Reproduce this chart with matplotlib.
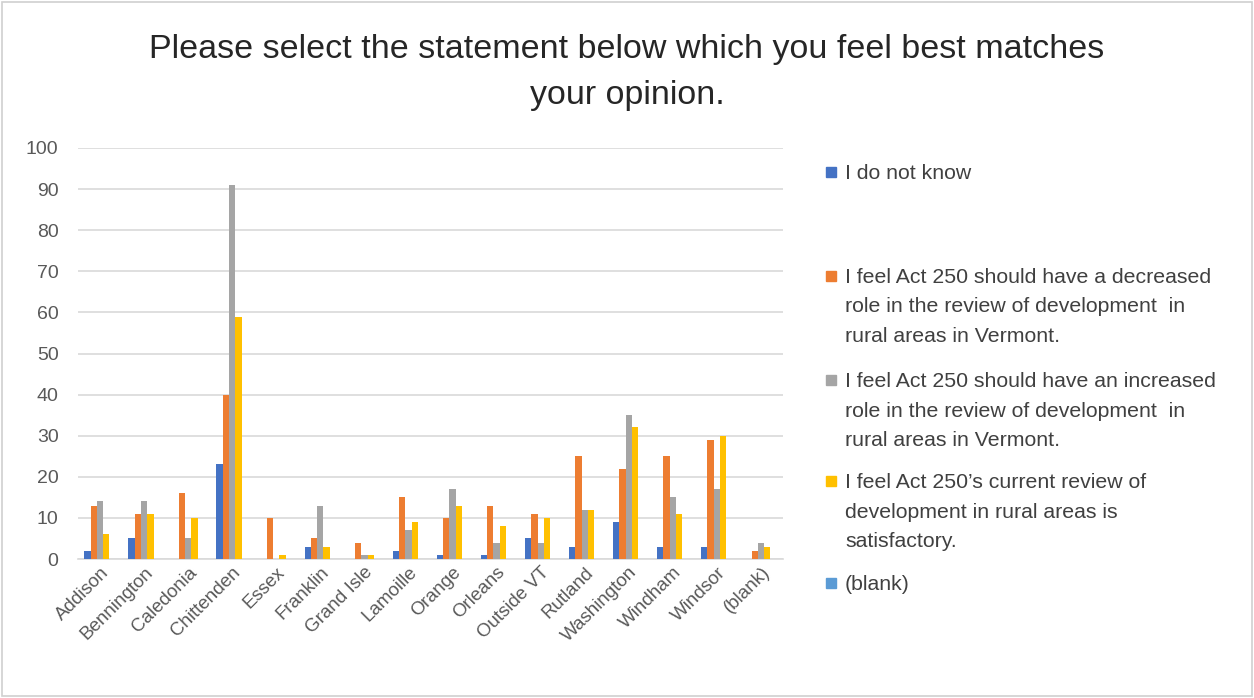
import numpy as np
import matplotlib.pyplot as plt
from matplotlib.patches import Rectangle

# data
counties = ['Addison', 'Bennington', 'Caledonia', 'Chittenden', 'Essex', 'Franklin',
            'Grand Isle', 'Lamoille', 'Orange', 'Orleans', 'Outside VT', 'Rutland',
            'Washington', 'Windham', 'Windsor', '(blank)']
dont_know = [2, 5, 0, 23, 0, 3, 0, 2, 1, 1, 5, 3, 9, 3, 3, 0]
decreased = [13, 11, 16, 40, 10, 5, 4, 15, 10, 13, 11, 25, 22, 25, 29, 2]
increased = [14, 14, 5, 91, 0, 13, 1, 7, 17, 4, 4, 12, 35, 15, 17, 4]
satisfied = [6, 11, 10, 59, 1, 3, 1, 9, 13, 8, 10, 12, 32, 11, 30, 3]
blank = [0] * 16

series_names = ['I do not know',
                'I feel Act 250 should have a decreased\nrole in the review of development  in\nrural areas in Vermont.',
                'I feel Act 250 should have an increased\nrole in the review of development  in\nrural areas in Vermont.',
                'I feel Act 250\u2019s current review of\ndevelopment in rural areas is\nsatisfactory.',
                '(blank)']
colors = ['#4472C4', '#ED7D31', '#A5A5A5', '#FFC000', '#5B9BD5']

plt.rcParams['font.family'] = ['Liberation Sans', 'DejaVu Sans']

fig = plt.figure(figsize=(12.54, 6.98), dpi=100)
ax = fig.add_axes([0.0622, 0.1991, 0.5622, 0.5889])

x = np.arange(len(counties))
w = 0.143
allvals = [dont_know, decreased, increased, satisfied, blank]
for i, (vals, c) in enumerate(zip(allvals, colors)):
    ax.bar(x + (i - 2) * w, vals, w, color=c, zorder=3)

ax.set_xlim(-0.5, len(counties) - 0.5)
ax.set_ylim(0, 100)
ax.set_yticks(range(0, 101, 10))
ax.yaxis.grid(True, color='#D9D9D9', linewidth=1.2, zorder=0)
for s in ['top', 'right', 'left']:
    ax.spines[s].set_visible(False)
ax.spines['bottom'].set_color('#D9D9D9')
ax.spines['bottom'].set_linewidth(1.2)
ax.tick_params(axis='both', length=0, labelsize=13.5, labelcolor='#595959')
ax.tick_params(axis='y', pad=14, labelsize=14)
ax.set_xticks(x)
ax.set_xticklabels(counties, rotation=45, ha='right', rotation_mode='anchor')

fig.text(0.5, 0.896, 'Please select the statement below which you feel best matches\nyour opinion.',
         ha='center', va='center', fontsize=24.5, color='#262626', linespacing=1.6)

# legend, drawn by hand so the markers sit on the first line of each entry
marker_y = [172, 276, 380, 481, 583]
for name, c, my in zip(series_names, colors, marker_y):
    yf = 1 - my / 698
    fig.patches.append(Rectangle((826 / 1254, yf - 5 / 698), 10 / 1254, 10 / 698,
                                 transform=fig.transFigure, color=c))
    fig.text(845 / 1254, yf + 8 / 698, name, ha='left', va='top', fontsize=15.3,
             color='#404040', linespacing=1.7)

fig.patches.append(Rectangle((2 / 1254, 2 / 698), 1250 / 1254, 694 / 698,
                             transform=fig.transFigure, fill=False,
                             edgecolor='#D0D0D0', linewidth=1.2))

fig.savefig('out.png', dpi=100)
